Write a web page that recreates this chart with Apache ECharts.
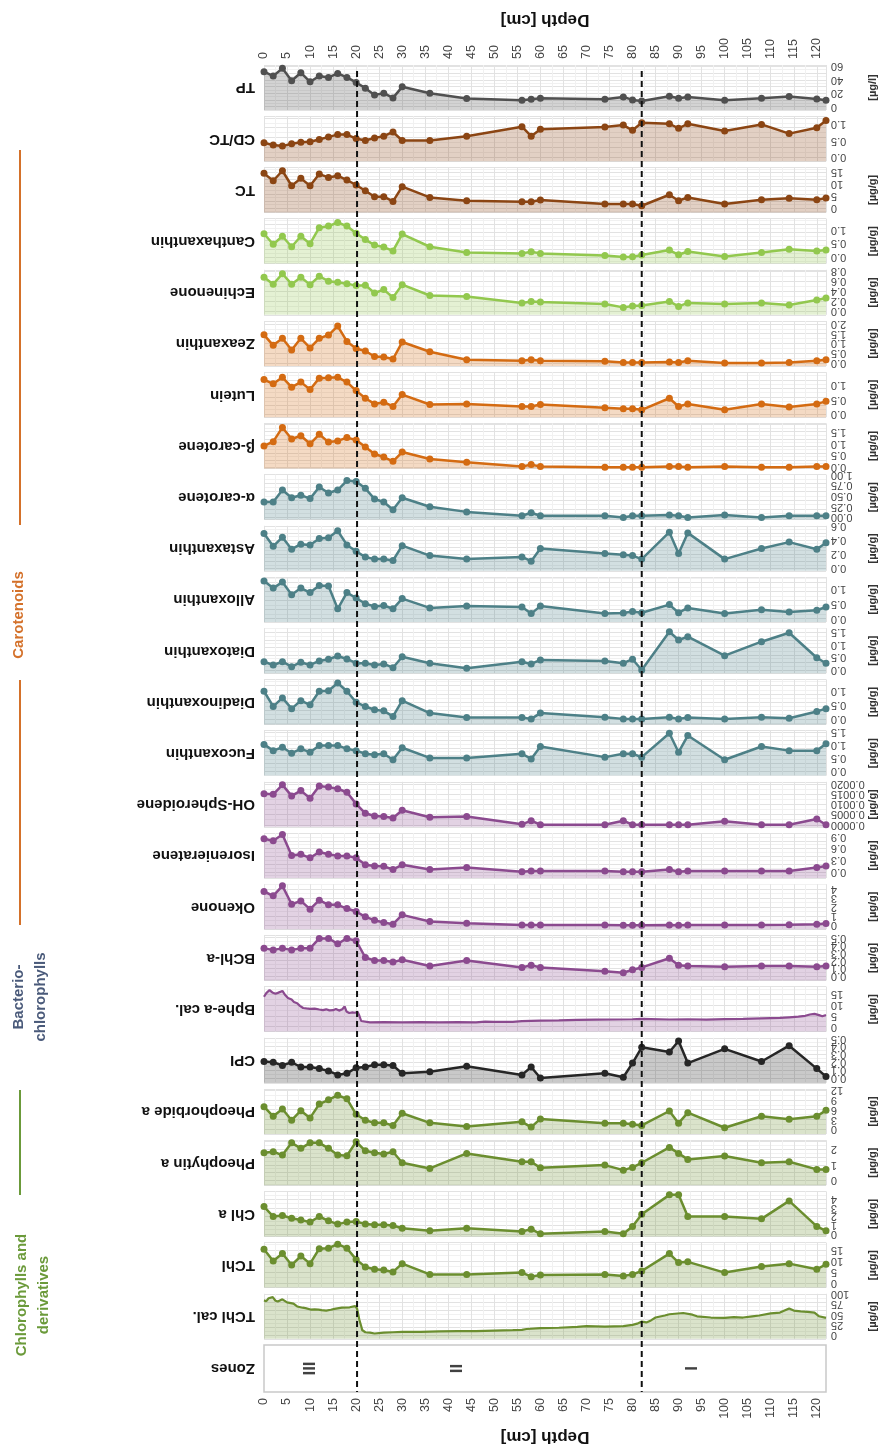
<!DOCTYPE html>
<html><head><meta charset="utf-8">
<script src="https://cdn.jsdelivr.net/npm/echarts@6/dist/echarts.min.js"></script>
<style>html,body{margin:0;padding:0;background:#fff}#c{width:892px;height:1452px}</style>
</head><body><div id="c"></div>
<script>
// ---------- data ----------
const depths = [0,2,4,6,8,10,12,14,16,18,20,22,24,26,28,30,36,44,56,58,60,74,78,80,82,88,90,92,100,108,114,120,122];
const TP = [52,45.5,57,38.5,50.5,37,45.5,43.5,49.5,43.5,36,27.5,17.5,20,13,29.5,20,12,9.5,11,12.5,11,14.5,10,8.5,15.5,12.5,14.5,9.5,12.5,15,11.5,9.5];
const CDTC = [0.44,0.37,0.34,0.41,0.46,0.47,0.54,0.62,0.69,0.69,0.57,0.51,0.59,0.64,0.77,0.51,0.51,0.64,0.93,0.64,0.85,0.92,0.98,0.82,1.05,1.02,0.88,1.02,0.80,1.00,0.72,0.90,1.12];
const TC = [14.6,11.5,15.7,9.4,12.5,9.4,14.3,12.9,13.6,11.8,9.7,7.3,4.8,4.8,2.8,9.0,4.5,3.1,2.7,2.7,3.4,1.7,1.7,1.7,1.0,5.6,3.1,4.5,1.7,3.5,4.1,3.5,4.2];
const Canthaxanthin = [0.85,0.47,0.76,0.38,0.76,0.49,1.07,1.13,1.26,1.13,0.87,0.64,0.44,0.37,0.23,0.84,0.38,0.17,0.14,0.20,0.14,0.06,0.01,0.02,0.08,0.26,0.09,0.21,0.03,0.17,0.29,0.23,0.26];
const Echinenone = [0.68,0.54,0.75,0.54,0.68,0.53,0.70,0.60,0.58,0.55,0.51,0.52,0.36,0.43,0.27,0.53,0.31,0.29,0.16,0.19,0.18,0.14,0.07,0.10,0.11,0.19,0.09,0.16,0.14,0.16,0.12,0.22,0.26];
const Zeaxanthin = [1.44,0.90,1.26,0.66,1.26,0.77,1.26,1.43,1.89,1.10,0.74,0.61,0.33,0.30,0.20,1.07,0.57,0.16,0.11,0.16,0.11,0.08,0.02,0.02,0.02,0.05,0.02,0.11,0.0,0.0,0.02,0.11,0.16];
const Lutein = [1.21,1.06,1.29,0.94,1.12,0.86,1.26,1.27,1.29,1.12,0.82,0.55,0.35,0.41,0.26,0.68,0.33,0.35,0.26,0.26,0.33,0.21,0.18,0.18,0.14,0.55,0.26,0.35,0.14,0.35,0.24,0.35,0.44];
const bCarotene = [0.90,1.08,1.68,1.19,1.33,0.99,1.39,1.06,1.11,1.25,1.15,0.85,0.56,0.43,0.25,0.64,0.35,0.21,0.03,0.11,0.03,0.0,0.0,0.0,0.0,0.03,0.03,0.0,0.03,0.0,0.0,0.03,0.03];
const aCarotene = [0.36,0.36,0.64,0.46,0.52,0.44,0.71,0.57,0.64,0.86,0.84,0.68,0.43,0.36,0.18,0.46,0.25,0.13,0.04,0.11,0.04,0.04,0.0,0.04,0.04,0.06,0.04,0.0,0.06,0.0,0.04,0.04,0.04];
const Astaxanthin = [0.49,0.31,0.44,0.27,0.34,0.33,0.42,0.43,0.53,0.33,0.24,0.16,0.13,0.13,0.11,0.32,0.18,0.13,0.16,0.10,0.28,0.21,0.19,0.18,0.13,0.51,0.21,0.50,0.13,0.28,0.37,0.27,0.36];
const Alloxanthin = [1.26,1.02,1.22,0.80,1.02,0.87,1.11,1.09,0.33,0.87,0.69,0.50,0.41,0.44,0.33,0.67,0.36,0.42,0.39,0.17,0.42,0.17,0.19,0.24,0.20,0.47,0.20,0.36,0.17,0.30,0.22,0.28,0.39];
const Diatoxanthin = [0.33,0.20,0.33,0.13,0.31,0.20,0.36,0.43,0.56,0.44,0.27,0.27,0.20,0.24,0.09,0.53,0.27,0.07,0.33,0.24,0.40,0.36,0.27,0.43,0.0,1.53,1.20,1.33,0.57,1.13,1.49,0.49,0.27];
const Diadinoxanthin = [1.0,0.45,0.76,0.37,0.66,0.51,1.0,1.02,1.30,1.0,0.60,0.45,0.33,0.29,0.09,0.66,0.21,0.05,0.05,0.0,0.21,0.06,0.0,0.0,0.0,0.06,0.0,0.05,0.0,0.06,0.02,0.27,0.37];
const Fucoxanthin = [1.03,0.79,0.92,0.69,0.86,0.73,0.99,0.99,0.99,0.86,0.79,0.67,0.63,0.67,0.44,0.90,0.51,0.51,0.67,0.47,0.95,0.54,0.67,0.67,0.54,1.46,0.73,1.37,0.44,0.95,0.79,0.79,1.05];
const OHSpheroidene = [0.00152,0.00149,0.00195,0.00141,0.00167,0.0013,0.0019,0.00184,0.00176,0.00159,0.00102,0.00056,0.00043,0.0004,0.00033,0.00071,0.00037,0.0004,0.00002,0.0002,0,0,0.0002,0,0,0,0,0,0.00017,0,0,0.00028,0];
const Isorenieratene = [0.85,0.80,0.96,0.42,0.45,0.36,0.51,0.45,0.41,0.41,0.36,0.18,0.15,0.14,0.06,0.18,0.06,0.11,0.0,0.02,0.02,0.02,0.0,0.0,0.0,0.06,0.0,0.02,0.02,0.02,0.02,0.11,0.15];
const Okenone = [3.74,3.26,4.37,2.33,2.70,1.78,2.78,2.26,2.26,1.85,1.52,0.93,0.56,0.30,0.11,1.15,0.41,0.22,0.02,0.02,0.02,0.02,0.0,0.0,0.0,0.02,0.0,0.02,0.02,0.02,0.04,0.11,0.19];
const BChla = [0.36,0.34,0.36,0.34,0.36,0.36,0.49,0.49,0.42,0.49,0.46,0.24,0.20,0.20,0.18,0.21,0.13,0.20,0.11,0.14,0.11,0.06,0.04,0.08,0.11,0.23,0.14,0.13,0.12,0.13,0.13,0.12,0.13];
const bpheDepth = [0,0.5,1.2,1.8,2.5,3,4,4.6,5.2,6,6.5,7.2,7.8,8.5,9.2,10,11,12,12.8,13.5,14.2,15,15.6,16.3,17,17.5,17.9,18.5,19.2,19.8,20.3,20.7,21.1,21.5,23,26,30,34,38,42,46,48,50,54,56,58,60,64,68,72,76,80,82,84,88,92,96,100,104,108,112,114,116,117.5,118.5,119.5,120.5,121.2,122];
const bpheVal = [13.8,15.5,16.9,15.8,15.2,15.6,16.5,14.6,13.2,12.5,11.4,10.8,9.6,8.6,8.4,8.2,8.3,7.9,7.6,8.0,7.5,7.6,8.1,7.4,8.0,9.3,7.0,6.3,6.6,6.4,6.9,5.0,2.6,2.0,2.0,2.1,2.0,2.1,2.0,2.1,2.0,2.3,2.2,2.2,2.5,2.7,2.8,2.9,3.1,3.2,3.3,3.4,3.6,3.5,3.3,3.4,3.2,3.5,3.6,3.8,4.0,4.3,4.6,5.0,5.6,5.9,5.3,4.8,5.4];
const CPI = [0.21,0.20,0.16,0.20,0.14,0.14,0.12,0.09,0.04,0.06,0.13,0.14,0.17,0.17,0.16,0.06,0.08,0.15,0.04,0.14,0.0,0.06,0.01,0.19,0.39,0.33,0.47,0.19,0.37,0.21,0.41,0.12,0.02];
const Pheophorbide = [6.9,4.0,6.2,2.8,5.7,3.5,7.7,9.0,10.4,9.3,4.6,2.8,2.0,2.0,1.2,4.9,2.0,0.9,2.3,0.7,3.2,1.9,1.9,1.6,1.2,5.6,1.9,5.1,0.5,4.0,3.1,4.0,5.8];
const Pheophytin = [1.78,1.85,1.63,2.43,2.07,2.43,2.43,2.07,1.63,1.59,2.5,1.91,1.78,1.70,1.85,1.13,0.76,1.74,1.2,1.2,0.8,0.98,0.65,0.83,1.13,2.13,1.74,1.35,1.57,1.13,1.2,0.7,0.7];
const Chla = [3.15,2.0,2.12,1.8,1.6,1.35,2.0,1.5,1.12,1.35,1.42,1.12,1.04,1.04,0.96,0.65,0.35,0.65,0.27,0.54,0.0,0.27,0.0,0.85,2.27,4.5,4.5,2.0,2.0,1.73,3.8,0.85,0.35];
const TChl = [15.2,10,13.3,8.2,12.2,8.8,15.5,15.7,17.5,15.7,10.7,7.3,6.3,6.0,5.1,8.8,4.0,4.0,4.8,3.0,3.7,4.0,3.3,4.0,5.5,13.3,9.3,9.6,4.8,7.5,8.8,6.3,8.5];
const tchlCalDepth = [0,0.5,1,1.9,2.5,3,4,5,6.4,7.2,8.4,9,10.1,11,11.8,12.5,13.5,14.5,15.3,16.9,18.6,19.8,20.2,20.7,21.2,21.3,22,23,24,26,28,30,34,38,42,46,50,54,56,57,60,64,68,70,74,78,80,81,82,83,84,85,87,88,91,93,94,97,100,102,104,106,107.5,110,112,114,115,116.5,118,119.5,120.5,122];
const tchlCalVal = [85,83,90,93,84,82,87.5,80,77,70,67,66,62.5,63,62.5,61,60,62,64,67,68,71,65,37.5,18,12.5,7,6,4,6,7,8,8,9,10,10,11,12,13,15,17,18,20,22,21,22,25,28,33,31,36,43,48,51,54,50,46,43,42,44,43,46,48,53,55,65,60,58,57,55,46,42];
const zoneNames = ['III','II','I'];
const zoneCenters = [10, 42, 93];
const zoneBounds = [20.2, 82];
const depthTicks = [0,5,10,15,20,25,30,35,40,45,50,55,60,65,70,75,80,85,90,95,100,105,110,115,120];
const ticksTP = [0,20,40,60];
const ticks05 = [0,0.5,1.0];
const ticks0515 = [0,0.5,1.0,1.5];
const ticks052 = [0,0.5,1.0,1.5,2.0];
const ticks5 = [0,5,10,15];
const ticksEch = [0,0.2,0.4,0.6,0.8];
const ticksAcar = [0,0.25,0.5,0.75,1.0];
const ticksAst = [0,0.2,0.4,0.6];
const ticksOH = [0,0.0005,0.001,0.0015,0.002];
const ticksIso = [0,0.3,0.6,0.9];
const ticks04 = [0,1,2,3,4];
const ticksTenth = [0,0.1,0.2,0.3,0.4,0.5];
const ticksPheob = [0,3,6,9,12];
const ticksPheop = [0,1,2];
const ticksCal = [0,25,50,75,100];
const groupLabels = ['Chlorophylls and\nderivatives','Bacterio-\nchlorophylls','Carotenoids'];

// ---------- styles ----------
const C = {gray:'#505050', brown:'#8B4513', lgreen:'#92c84e', orange:'#d46b12', teal:'#4d8087', purple:'#8b4a8f', black:'#262626', olive:'#6b8e2f'};
const UG = '[µg/g]';
const panels = [
 {name:'TP', vals:TP, color:C.gray, min:-5, max:62, ticks:ticksTP, dec:0, unit:'[µg/l]'},
 {name:'CD/TC', vals:CDTC, color:C.brown, min:-0.12, max:1.25, ticks:ticks05, dec:1, unit:''},
 {name:'TC', vals:TC, color:C.brown, min:-1.8, max:17.1, ticks:ticks5, dec:0, unit:UG},
 {name:'Canthaxanthin', vals:Canthaxanthin, color:C.lgreen, min:-0.23, max:1.4, ticks:ticks05, dec:1, unit:UG},
 {name:'Echinenone', vals:Echinenone, color:C.lgreen, min:-0.08, max:0.83, ticks:ticksEch, dec:1, unit:UG},
 {name:'Zeaxanthin', vals:Zeaxanthin, color:C.orange, min:-0.16, max:2.15, ticks:ticks052, dec:1, unit:UG},
 {name:'Lutein', vals:Lutein, color:C.orange, min:-0.12, max:1.47, ticks:ticks05, dec:1, unit:UG},
 {name:'β-carotene', vals:bCarotene, color:C.orange, min:-0.05, max:1.85, ticks:ticks0515, dec:1, unit:UG},
 {name:'α-carotene', vals:aCarotene, color:C.teal, min:-0.05, max:1.0, ticks:ticksAcar, dec:2, unit:UG},
 {name:'Astaxanthin', vals:Astaxanthin, color:C.teal, min:-0.035, max:0.6, ticks:ticksAst, dec:1, unit:UG},
 {name:'Alloxanthin', vals:Alloxanthin, color:C.teal, min:-0.11, max:1.39, ticks:ticks05, dec:1, unit:UG},
 {name:'Diatoxanthin', vals:Diatoxanthin, color:C.teal, min:-0.13, max:1.67, ticks:ticks0515, dec:1, unit:UG},
 {name:'Diadinoxanthin', vals:Diadinoxanthin, color:C.teal, min:-0.2, max:1.43, ticks:ticks05, dec:1, unit:UG},
 {name:'Fucoxanthin', vals:Fucoxanthin, color:C.teal, min:-0.17, max:1.56, ticks:ticks0515, dec:1, unit:UG},
 {name:'OH-Spheroidene', vals:OHSpheroidene, color:C.purple, min:-0.0001, max:0.0021, ticks:ticksOH, dec:4, unit:UG},
 {name:'Isorenieratene', vals:Isorenieratene, color:C.purple, min:-0.16, max:1.0, ticks:ticksIso, dec:1, unit:UG},
 {name:'Okenone', vals:Okenone, color:C.purple, min:-0.44, max:4.55, ticks:ticks04, dec:0, unit:UG},
 {name:'BChl-a', vals:BChla, color:C.purple, min:-0.06, max:0.53, ticks:ticksTenth, dec:1, unit:UG},
 {name:'Bphe-a cal.', xs:bpheDepth, vals:bpheVal, color:C.purple, min:-2.3, max:18.5, ticks:ticks5, dec:0, unit:UG, cal:true},
 {name:'CPI', vals:CPI, color:C.black, min:-0.06, max:0.51, ticks:ticksTenth, dec:1, unit:''},
 {name:'Pheophorbide a', vals:Pheophorbide, color:C.olive, min:-1.4, max:12.3, ticks:ticksPheob, dec:0, unit:UG},
 {name:'Pheophytin a', vals:Pheophytin, color:C.olive, min:-0.33, max:2.6, ticks:ticksPheop, dec:0, unit:UG},
 {name:'Chl a', vals:Chla, color:C.olive, min:-0.3, max:4.9, ticks:ticks04, dec:0, unit:UG},
 {name:'TChl', vals:TChl, color:C.olive, min:-1.9, max:18.2, ticks:ticks5, dec:0, unit:UG},
 {name:'TChl cal.', xs:tchlCalDepth, vals:tchlCalVal, color:C.olive, min:-9, max:101, ticks:ticksCal, dec:0, unit:UG, cal:true}
];

const L = 264, R = 66, TOP0 = 65, STEP = 51.2, PH = 45;
const ZTOP = 1345, ZH = 47;
const FONT = '"Liberation Sans", Arial, sans-serif';
const grid = [], xAxis = [], yAxis = [], series = [], graphic = [];
const gridLine = {show:true, lineStyle:{color:'#e2e2e2', width:1}};
const minorLine = {show:true, lineStyle:{color:'#f1f1f1', width:1}};
const depthLabel = (show) => show ? {show:true, interval:0, rotate:90, fontSize:12.5, color:'#444', fontFamily:FONT, margin:6, customValues:depthTicks, showMinLabel:true, showMaxLabel:true} : {show:false};

panels.forEach((p, i) => {
  const top = TOP0 + i * STEP;
  grid.push({left:L, right:R, top:top, height:PH, show:true, borderWidth:0, backgroundColor:'#ffffff'});
  xAxis.push({type:'value', gridIndex:i, min:0, max:122, interval:5, position:'top',
    axisLine:{show:false}, axisTick:{show:false}, axisLabel:depthLabel(i === 0),
    splitLine:gridLine, minorTick:{show:false, splitNumber:2}, minorSplitLine:minorLine});
  yAxis.push({type:'value', gridIndex:i, min:p.min, max:p.max, position:'right',
    axisLine:{show:false}, axisTick:{show:false}, axisLabel:{show:false},
    splitLine:gridLine, minorTick:{show:false, splitNumber:2}, minorSplitLine:minorLine});
  const xs = p.xs || depths;
  series.push({type:'line', name:p.name, xAxisIndex:i, yAxisIndex:i,
    data: xs.map((d, k) => [d, p.vals[k]]),
    showSymbol: !p.cal, symbol:'circle', symbolSize:7, clip:false, silent:true, animation:false,
    itemStyle:{color:p.color}, lineStyle:{color:p.color, width:p.cal ? 2.2 : 2.5},
    areaStyle:{color:p.color, opacity:0.25, origin:'start'}});
  graphic.push({id:'t'+i, type:'text', x:255, y:top + PH/2, rotation:Math.PI, silent:true,
    style:{text:p.name, fill:'#111', font:'bold 15px ' + FONT, align:'left', verticalAlign:'middle', textAlign:'left', textVerticalAlign:'middle'}});
  if (p.unit) graphic.push({id:'u'+i, type:'text', x:873, y:top + PH/2, rotation:Math.PI/2, silent:true,
    style:{text:p.unit, fill:'#333', font:'bold 11px ' + FONT, align:'center', verticalAlign:'middle', textAlign:'center', textVerticalAlign:'middle'}});
});

// Zones panel
const zi = panels.length;
grid.push({left:L, right:R, top:ZTOP, height:ZH, show:true, borderColor:'#c9c9c9', borderWidth:1.5, backgroundColor:'#ffffff'});
xAxis.push({type:'value', gridIndex:zi, min:0, max:122, interval:5, position:'bottom',
  axisLine:{show:false}, axisTick:{show:false}, axisLabel:depthLabel(true), splitLine:{show:false}});
yAxis.push({type:'value', gridIndex:zi, min:0, max:1, show:false});
series.push({type:'scatter', xAxisIndex:zi, yAxisIndex:zi, symbolSize:0, silent:true, animation:false,
  data: zoneCenters.map((x, k) => ({value:[x, 0.5], name:zoneNames[k]})),
  label:{show:true, position:'inside', formatter:'{b}', rotate:90, fontSize:17, fontWeight:'bold', color:'#111', fontFamily:FONT}});
graphic.push({id:'tz', type:'text', x:255, y:ZTOP + ZH/2, rotation:Math.PI, silent:true,
  style:{text:'Zones', fill:'#111', font:'bold 15px ' + FONT, align:'left', verticalAlign:'middle', textAlign:'left', textVerticalAlign:'middle'}});

// Depth titles
const midX = L + (892 - L - R) / 2;
[[20, 'dt1'], [1437, 'dt2']].forEach(([y, id]) => graphic.push({id:id, type:'text', x:midX, y:y, rotation:Math.PI, silent:true,
  style:{text:'Depth [cm]', fill:'#111', font:'bold 17px ' + FONT, align:'center', verticalAlign:'middle', textAlign:'center', textVerticalAlign:'middle'}}));

// group labels + bars
const gl = [
  {t:groupLabels[0], x:33, y:1295, c:'#6b9a3a'},
  {t:groupLabels[1], x:30, y:997, c:'#4a5a7a'},
  {t:groupLabels[2], x:19, y:615, c:'#d4712a'}
];
gl.forEach((g, k) => graphic.push({id:'g'+k, type:'text', x:g.x, y:g.y, rotation:Math.PI/2, silent:true,
  style:{text:g.t, fill:g.c, font:'bold 15px ' + FONT, lineHeight:22, align:'center', verticalAlign:'middle', textAlign:'center', textVerticalAlign:'middle'}}));
const bars = [[1090, 1195, '#6b9a3a'], [680, 925, '#d4712a'], [150, 525, '#d4712a']];
bars.forEach((b, k) => graphic.push({id:'b'+k, type:'line', silent:true, shape:{x1:20, y1:b[0], x2:20, y2:b[1]}, style:{stroke:b[2], lineWidth:2}}));

const chart = echarts.init(document.getElementById('c'), null, {renderer:'canvas'});
chart.setOption({animation:false, backgroundColor:'#ffffff', grid, xAxis, yAxis, series, graphic});

// second pass: elements placed through the axes' own scales
const extra = [];
zoneBounds.forEach((d, k) => {
  const px = chart.convertToPixel({xAxisIndex:0}, d);
  extra.push({id:'dash'+k, type:'line', silent:true, z:100,
    shape:{x1:px, y1:TOP0 + 6, x2:px, y2:ZTOP + ZH},
    style:{stroke:'#111', lineWidth:2, lineDash:[6, 4]}});
});
panels.forEach((p, i) => {
  const xr = chart.convertToPixel({xAxisIndex:i}, 122) + 5;
  p.ticks.forEach((v, k) => {
    const py = chart.convertToPixel({yAxisIndex:i}, v);
    extra.push({id:'yl'+i+'_'+k, type:'text', x:xr, y:py, rotation:Math.PI, silent:true, z:50,
      style:{text:Number(v).toFixed(p.dec), fill:'#444', font:'11px ' + FONT, align:'right', verticalAlign:'middle', textAlign:'right', textVerticalAlign:'middle'}});
  });
});
chart.setOption({graphic: graphic.concat(extra)});
</script></body></html>
